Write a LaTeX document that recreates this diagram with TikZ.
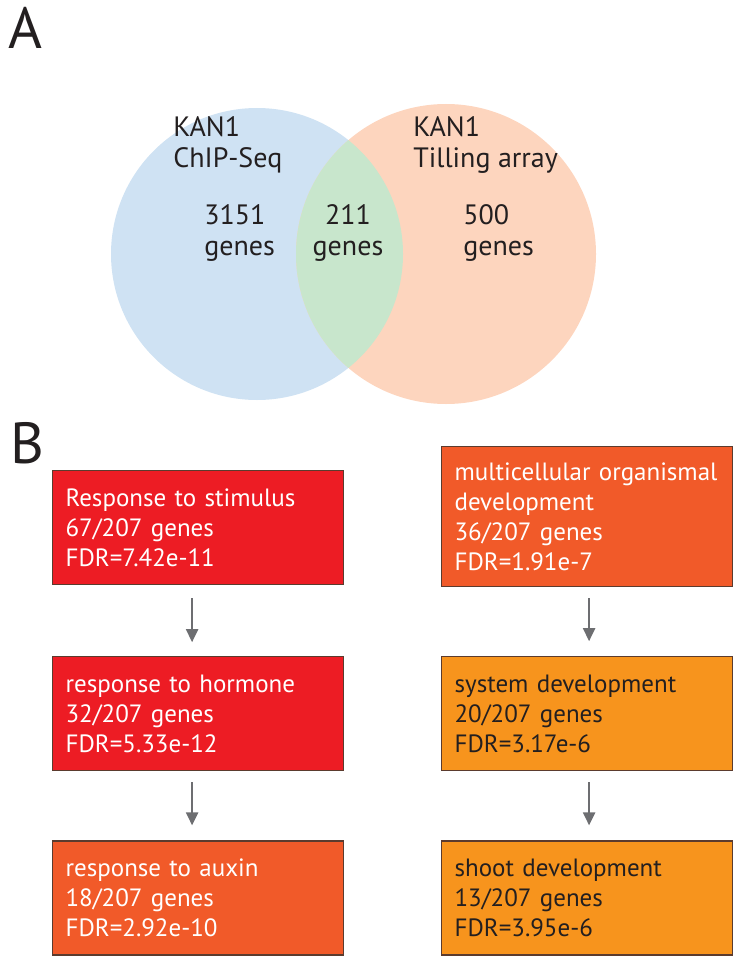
\documentclass[tikz,border=0pt]{standalone}
\usepackage{fontspec}
\setmainfont{PT Sans}
\usetikzlibrary{positioning, arrows.meta}

\definecolor{vennblue}{HTML}{CFE2F3}
\definecolor{vennpeach}{HTML}{FDD5BE}
\definecolor{venngreen}{HTML}{C8E6CC}
\definecolor{gored}{HTML}{ED1C24}
\definecolor{godark}{HTML}{F15A29}
\definecolor{golight}{HTML}{F7941D}
\definecolor{boxline}{HTML}{5B3B2E}
\definecolor{inktext}{HTML}{231F20}
\definecolor{arrowgray}{HTML}{6D6E71}

\begin{document}
\begin{tikzpicture}[x=1pt, y=-1pt,
semithick,
block/.style={draw=boxline, line width=1.2pt, rectangle, anchor=north west, text width=265pt, minimum height=114pt, align=left, inner xsep=13pt, inner ysep=0pt, font=\fontsize{25}{30}\selectfont},
hot/.style={block, fill=gored, text=white},
warm/.style={block, fill=godark, text=white},
mild/.style={block, fill=golight, text=inktext},
tag/.style={font=\fontsize{28}{31}\selectfont, text=inktext, align=left, anchor=west, inner sep=0pt},
panel/.style={font=\fontsize{58}{58}\selectfont, text=inktext, anchor=north west, inner sep=0pt},
flow/.style={color=arrowgray, line width=2.2pt, -{Triangle[width=12pt,length=13pt]}}]

\useasboundingbox (0,0) rectangle (740,960);

% panel A: venn
\node[panel] (A) at (8,7) {A};
\node[circle, fill=vennblue, minimum size=292pt, inner sep=0pt] (chip) at (257,254) {};
\node[circle, fill=vennpeach, minimum size=300pt, inner sep=0pt] (tile) at (446,254) {};
\begin{scope}
\clip (257,254) circle (146pt);
\fill[venngreen] (446,254) circle (150pt);
\end{scope}

\node[tag]					(chipname) at (173,145)		{KAN1\\ChIP-Seq};
\node[tag]					(chipnum) at (204,233)		{3151\\genes};
\node[tag, align=center, anchor=center]	(both) at (348,233)		{211\\genes};
\node[tag]					(tilename) at (413,145)		{KAN1\\Tilling array};
\node[tag]					(tilenum) at (463,233)		{500\\genes};

% panel B: GO terms
\node[panel] (B) at (10,422) {B};

\node[hot]					(L1) at (52,470)		{Response to stimulus\\67/207 genes\\FDR=7.42e-11};
\node[hot]					(L2)[below=71pt of L1]		{response to hormone\\32/207 genes\\FDR=5.33e-12};
\node[warm]					(L3)[below=69pt of L2]		{response to auxin\\18/207 genes\\FDR=2.92e-10};

\node[warm, minimum height=140pt]		(R1) at (441,446)		{multicellular organismal\\development\\36/207 genes\\FDR=1.91e-7};
\node[mild]					(R2)[below=69pt of R1]		{system development\\20/207 genes\\FDR=3.17e-6};
\node[mild]					(R3)[below=69pt of R2]		{shoot development\\13/207 genes\\FDR=3.95e-6};

\path[flow]
 ([xshift=-6pt,yshift=-13pt]L1.south)	edge	([xshift=-6pt,yshift=14pt]L2.north)
 ([xshift=-6pt,yshift=-11pt]L2.south)	edge	([xshift=-6pt,yshift=15pt]L3.north)
 ([xshift=2pt,yshift=-11pt]R1.south)	edge	([xshift=2pt,yshift=15pt]R2.north)
 ([xshift=2pt,yshift=-11pt]R2.south)	edge	([xshift=2pt,yshift=15pt]R3.north);

\end{tikzpicture}
\end{document}
